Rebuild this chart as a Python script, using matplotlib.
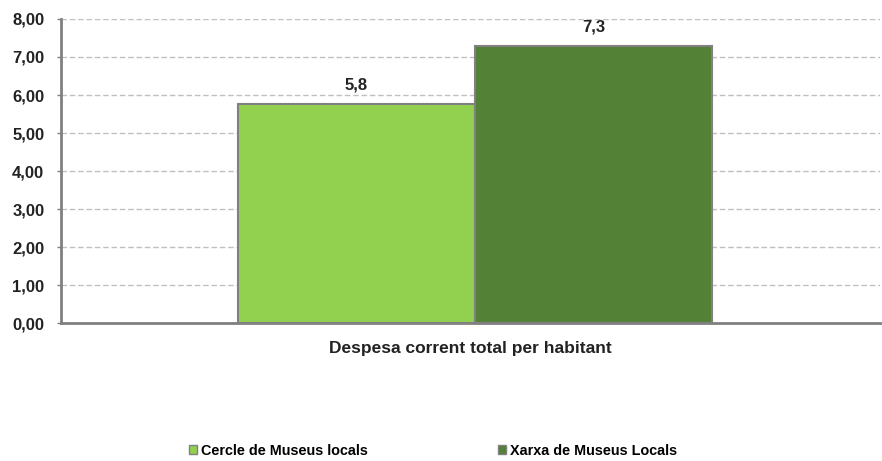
import matplotlib.pyplot as plt
from matplotlib.patches import Patch

plt.rcParams['font.family'] = ['Liberation Sans', 'DejaVu Sans']

# Data
category = 'Despesa corrent total per habitant'
series = ['Cercle de Museus locals', 'Xarxa de Museus Locals']
values = [5.76, 7.28]
labels = ['5,8', '7,3']
colors = ['#92D050', '#538135']
yticks = [0, 1, 2, 3, 4, 5, 6, 7, 8]

fig = plt.figure(figsize=(8.82, 4.61), dpi=100)
ax = fig.add_axes([0.0692, 0.2993, 0.9285, 0.6595])

width = 0.29
offsets = [-width / 2, width / 2]
for off, v, lab, c in zip(offsets, values, labels, colors):
    ax.bar(off, v, width=width, color=c, edgecolor='#808080', linewidth=1.5, zorder=3)
    ax.text(off, v + 0.3, lab, ha='center', va='bottom', fontsize=12, fontweight='bold', color='#222222')

ax.set_xlim(-0.5055, 0.4945)
ax.set_ylim(0, 8)
ax.set_yticks(yticks)
ax.set_yticklabels(['%d,00' % t for t in yticks], fontsize=12, fontweight='bold', color='#222222')
ax.set_xticks([])
ax.set_xlabel(category, fontsize=12.5, fontweight='bold', color='#222222', labelpad=13)

ax.grid(axis='y', color='#c0c0c0', linestyle=(0, (4, 2)), linewidth=1, zorder=0)
for s in ['top', 'right']:
    ax.spines[s].set_visible(False)
for s in ['left', 'bottom']:
    ax.spines[s].set_color('#808080')
    ax.spines[s].set_linewidth(2)
ax.tick_params(axis='y', length=3, width=1, color='#808080', pad=9)

handles = [Patch(facecolor=c, edgecolor='#808080', linewidth=1) for c in colors]
fig.legend(handles, series, loc='center', bbox_to_anchor=(433 / 882, 1 - 451 / 461),
           ncol=2, frameon=False, handlelength=0.56, handleheight=0.56, handletextpad=0.28,
           columnspacing=9.0, prop={'size': 10.4, 'weight': 'bold'})

fig.savefig('out.png', dpi=100)
